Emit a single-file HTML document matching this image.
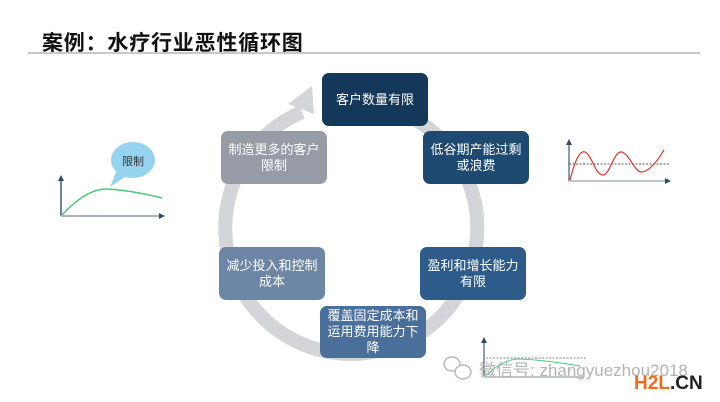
<!DOCTYPE html>
<html><head><meta charset="utf-8"><style>
body{margin:0;width:720px;height:402px;background:#fff;overflow:hidden;position:relative;font-family:"Liberation Sans","Noto Sans CJK SC",sans-serif}
.t{position:absolute;left:42px;top:27px;font-size:21px;font-weight:bold;color:#111;letter-spacing:0.8px}
.ln{position:absolute;left:28px;top:52px;width:672px;height:2px;background:#c8c8c8}
.n{position:absolute;width:106px;height:53px;border-radius:7px;color:#fff;font-size:13px;line-height:16px;display:flex;align-items:center;justify-content:center;text-align:center;box-sizing:border-box;padding:0 4px}
</style></head><body>
<div class="t">案例：水疗行业恶性循环图</div>
<div class="ln"></div>
<svg width="720" height="402" style="position:absolute;left:0;top:0">
<path d="M302,112 A126,126 0 1 0 374,104" fill="none" stroke="#d4d5d8" stroke-width="14"/>
<polygon points="288,104 312,86 314,114" fill="#d4d5d8"/>
<line x1="61" y1="216" x2="61" y2="180" stroke="#3d5a7a" stroke-width="1.5"/>
<polygon points="58,181 61,175 64,181" fill="#2c4a6a"/>
<line x1="61" y1="216" x2="160" y2="216" stroke="#a9b4c0" stroke-width="2"/>
<polygon points="159,213 165,216 159,219" fill="#2c4a6a"/>
<path d="M62,215 Q85,190 105,189 Q130,190 162,198" fill="none" stroke="#4cc97a" stroke-width="1.5"/>
<ellipse cx="133" cy="160" rx="22" ry="18" fill="#96d3ef"/>
<polygon points="118,168 128,175 110,187" fill="#96d3ef"/>
<text x="133" y="165" font-size="11" text-anchor="middle" fill="#333" font-family="Liberation Sans,Noto Sans CJK SC,sans-serif">限制</text>
<line x1="569" y1="181" x2="569" y2="144" stroke="#3d5a7a" stroke-width="1.2"/>
<polygon points="566,145 569,139 572,145" fill="#2c4a6a"/>
<line x1="569" y1="181" x2="666" y2="181" stroke="#a9b4c0" stroke-width="1.5"/>
<polygon points="665,178 671,181 665,184" fill="#2c4a6a"/>
<line x1="569" y1="164" x2="670" y2="164" stroke="#555" stroke-width="1" stroke-dasharray="2,1.5"/>
<path d="M570,180 C575,160 580,150 585,152 C592,155 595,175 603,175 C610,175 614,150 622,152 C630,155 635,173 642,172 C650,171 658,160 664,150" fill="none" stroke="#d9342b" stroke-width="1.2"/>
<line x1="484" y1="377" x2="484" y2="342" stroke="#3d5a7a" stroke-width="1.2"/>
<polygon points="481,343 484,337 487,343" fill="#2c4a6a"/>
<line x1="484" y1="377" x2="584" y2="377" stroke="#a9b4c0" stroke-width="1.5"/>
<line x1="486" y1="358" x2="587" y2="358" stroke="#888" stroke-width="1" stroke-dasharray="2,1.5"/>
<path d="M485,376 Q505,358 520,359 Q545,360 580,366" fill="none" stroke="#4cc97a" stroke-width="1"/>
<ellipse cx="452" cy="364" rx="8" ry="7" fill="none" stroke="#bbb" stroke-width="1.5"/>
<ellipse cx="463" cy="372" rx="8" ry="7" fill="#fff" stroke="#bbb" stroke-width="1.5"/>
<text x="479" y="376" font-size="17" fill="#b4b4b4" font-family="Liberation Sans,Noto Sans CJK SC,sans-serif">微信号: zhangyuezhou2018</text>
<text x="634" y="389" font-size="19" font-weight="bold" fill="#f26a1b" font-family="Liberation Sans,sans-serif">H2L</text>
<text x="670" y="389" font-size="19" font-weight="bold" fill="#222" font-family="Liberation Sans,sans-serif">.CN</text>
</svg>
<div class="n" style="left:322px;top:73px;background:#14385a">客户数量有限</div>
<div class="n" style="left:423px;top:131px;background:#1e4a72">低谷期产能过剩或浪费</div>
<div class="n" style="left:420px;top:247px;background:#2e5c8a">盈利和增长能力有限</div>
<div class="n" style="left:320px;top:306px;height:52px;background:#4a6f9a">覆盖固定成本和运用费用能力下降</div>
<div class="n" style="left:219px;top:247px;background:#6e86a6">减少投入和控制成本</div>
<div class="n" style="left:221px;top:131px;background:#969ba6">制造更多的客户限制</div>
</body></html>
